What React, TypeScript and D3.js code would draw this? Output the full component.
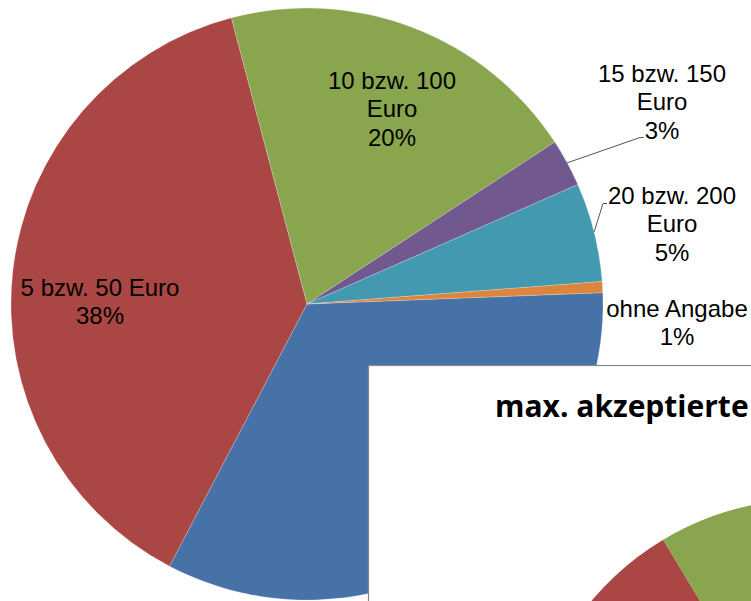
import React from "react";
import * as d3 from "d3";

const categories = ["0 Euro", "5 bzw. 50 Euro", "10 bzw. 100 Euro", "15 bzw. 150 Euro", "20 bzw. 200 Euro", "ohne Angabe"];
const labelLines = [["0 Euro"], ["5 bzw. 50 Euro"], ["10 bzw. 100", "Euro"], ["15 bzw. 150", "Euro"], ["20 bzw. 200", "Euro"], ["ohne Angabe"]];
const percentLabels = ["33%", "38%", "20%", "3%", "5%", "1%"];
const sharesMain = [33.3, 38.2, 19.9, 2.6, 5.4, 0.6];
const sharesSecond = [40, 27, 24, 4, 4, 1];
const colors = ["#4672A8", "#AA4744", "#89A64E", "#71588F", "#4299B0", "#DC853E"];
const secondTitle = "max. akzeptierte";

const W = 751;
const H = 601;
const START = (87.8 * Math.PI) / 180;

// layout (not data): label anchors (center x, first baseline y) and leader paths
const labelAnchor: Record<number, { x: number; y: number }> = {
  1: { x: 100, y: 296 },
  2: { x: 392, y: 89 },
  3: { x: 662, y: 82 },
  4: { x: 672, y: 204 },
  5: { x: 677, y: 317 },
};
const leaderEnd: Record<number, [number, number][]> = {
  3: [[640, 137.5], [644, 137.5]],
  4: [[603, 203.5], [607, 203.5]],
};

export default function App() {
  const cx = 307, cy = 304, r = 296;
  const pie = d3.pie<number>().sort(null).value((d) => d).startAngle(START).endAngle(START + 2 * Math.PI);
  const arcs = pie(sharesMain);
  const arcGen = d3.arc<d3.PieArcDatum<number>>().innerRadius(0).outerRadius(r);

  const cx2 = 810, cy2 = 784, r2 = 285;
  const arcs2 = pie(sharesSecond);
  const arcGen2 = d3.arc<d3.PieArcDatum<number>>().innerRadius(0).outerRadius(r2);

  const lineH = 28.3;
  const font = "'Liberation Sans', Arial, sans-serif";

  return (
    <svg width={W} height={H} style={{ position: "absolute", left: 0, top: 0, background: "#fff" }}>
      <defs>
        <clipPath id="boxclip">
          <rect x={368.5} y={365.5} width={W} height={H} />
        </clipPath>
      </defs>
      <g transform={`translate(${cx},${cy})`}>
        {arcs.map((a, i) => (
          <path key={categories[i]} d={arcGen(a) || ""} fill={colors[i]} stroke="#ffffff" strokeOpacity={0.35} strokeWidth={0.6} />
        ))}
        {arcs.map((a, i) => {
          if (!leaderEnd[i]) return null;
          const mid = (a.startAngle + a.endAngle) / 2;
          const sx = r * Math.sin(mid);
          const sy = -r * Math.cos(mid);
          const pts = [[sx, sy], ...leaderEnd[i].map(([x, y]) => [x - cx, y - cy])];
          return (
            <polyline key={"l" + i} points={pts.map((p) => p.join(",")).join(" ")} fill="none" stroke="#555" strokeWidth={1} />
          );
        })}
      </g>
      {categories.map((c, i) => {
        const an = labelAnchor[i];
        if (!an) return null;
        const lines = [...labelLines[i], percentLabels[i]];
        return (
          <text key={"t" + c} x={an.x} y={an.y} textAnchor="middle" fontFamily={font} fontSize={24} fill="#000">
            {lines.map((ln, k) => (
              <tspan key={k} x={an.x} y={an.y + k * lineH}>{ln}</tspan>
            ))}
          </text>
        );
      })}
      <rect x={368.5} y={365.5} width={W} height={H} fill="#fff" stroke="#878787" strokeWidth={1.2} />
      <g clipPath="url(#boxclip)">
        <g transform={`translate(${cx2},${cy2})`}>
          {arcs2.map((a, i) => (
            <path key={"s" + categories[i]} d={arcGen2(a) || ""} fill={colors[i]} />
          ))}
        </g>
        <text x={495} y={417} fontFamily="'Open Sans', Lato, sans-serif" fontWeight="bold" fontSize={30} fill="#000">
          {secondTitle}
        </text>
      </g>
    </svg>
  );
}
